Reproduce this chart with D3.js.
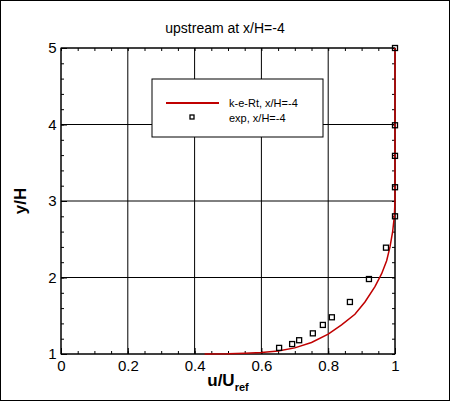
<!DOCTYPE html><html><head><script src="https://cdn.jsdelivr.net/npm/d3@7"></script>
<style>body{margin:0;background:#fff}text{font-family:"Liberation Sans",Arial,sans-serif}</style></head><body>
<svg id="c" width="450" height="401"></svg>
<script>
const xTicks=[0,0.2,0.4,0.6,0.8,1];
const yTicks=[1,2,3,4,5];
const simX=[0.43,0.5,0.55,0.6,0.65,0.7,0.75,0.8,0.84,0.88,0.91,0.94,0.96,0.975,0.985,0.993,0.998,1,1];
const simY=[1.0,1.003,1.01,1.02,1.04,1.08,1.15,1.26,1.38,1.52,1.68,1.88,2.05,2.22,2.4,2.6,2.8,3.0,5];
const expX=[0.653,0.692,0.713,0.754,0.784,0.811,0.865,0.922,0.973,1,1,1,1,1];
const expY=[1.08,1.13,1.18,1.27,1.38,1.48,1.68,1.98,2.39,2.8,3.18,3.59,3.99,5.0];
const svg=d3.select("#c");
svg.append("rect").attr("x",0.5).attr("y",0.5).attr("width",449).attr("height",400).attr("fill","none").attr("stroke","#000");
const x=d3.scaleLinear().domain([0,1]).range([61,395]);
const y=d3.scaleLinear().domain([1,5]).range([354,48]);
const g=svg.append("g");
xTicks.forEach(t=>g.append("line").attr("x1",x(t)).attr("x2",x(t)).attr("y1",48).attr("y2",354).attr("stroke","#000"));
yTicks.forEach(t=>g.append("line").attr("x1",61).attr("x2",395).attr("y1",y(t)).attr("y2",y(t)).attr("stroke","#000"));
g.append("rect").attr("x",61).attr("y",48).attr("width",334).attr("height",306).attr("fill","none").attr("stroke","#000");
const ax=svg.append("g").attr("transform","translate(0,354)").call(d3.axisBottom(x).tickValues(xTicks).tickSize(-6).tickFormat(d3.format("")));
ax.selectAll(".tick text").attr("font-size",15).attr("dy","0.9em");
ax.select(".domain").remove();
svg.append("g").attr("transform","translate(0,354)").call(d3.axisBottom(x).ticks(25).tickSize(-3).tickFormat("")).select(".domain").remove();
const ay=svg.append("g").attr("transform","translate(61,0)").call(d3.axisLeft(y).tickValues(yTicks).tickSize(-6).tickFormat(d3.format("")));
ay.selectAll(".tick text").attr("font-size",15).attr("dx","-0.1em");
ay.select(".domain").remove();
svg.append("g").attr("transform","translate(61,0)").call(d3.axisLeft(y).ticks(20).tickSize(-3).tickFormat("")).select(".domain").remove();
svg.append("g").attr("transform","translate(395,0)").call(d3.axisRight(y).ticks(20).tickSize(-3).tickFormat("")).select(".domain").remove();
svg.append("g").attr("transform","translate(0,48)").call(d3.axisTop(x).ticks(25).tickSize(-3).tickFormat("")).select(".domain").remove();
const line=d3.line().x((d,i)=>x(simX[i])).y((d,i)=>y(simY[i]));
svg.append("path").datum(simX).attr("d",line).attr("fill","none").attr("stroke","#c00000").attr("stroke-width",1.5);
svg.selectAll(".p").data(expX).enter().append("rect").attr("x",(d)=>x(d)-2.5).attr("y",(d,i)=>y(expY[i])-2.5).attr("width",5).attr("height",5).attr("fill","none").attr("stroke","#000").attr("stroke-width",1.3);
svg.append("text").attr("x",225).attr("y",33).attr("text-anchor","middle").attr("font-size",14).text("upstream at x/H=-4");
const lg=svg.append("g");
lg.append("rect").attr("x",152).attr("y",79).attr("width",171).attr("height",58).attr("fill","#fff").attr("stroke","#000");
lg.append("line").attr("x1",166).attr("x2",219).attr("y1",103).attr("y2",103).attr("stroke","#c00000").attr("stroke-width",2);
lg.append("rect").attr("x",190).attr("y",115).attr("width",4).attr("height",4).attr("fill","none").attr("stroke","#000").attr("stroke-width",1.3);
lg.append("text").attr("x",229).attr("y",107).attr("font-size",11).text("k-e-Rt, x/H=-4");
lg.append("text").attr("x",229).attr("y",122).attr("font-size",11).text("exp, x/H=-4");
svg.append("text").attr("transform","translate(26,201) rotate(-90)").attr("text-anchor","middle").attr("font-size",17).attr("font-weight","bold").text("y/H");
const xl=svg.append("text").attr("x",228).attr("y",386).attr("text-anchor","middle").attr("font-size",17).attr("font-weight","bold");
xl.append("tspan").text("u/U");
xl.append("tspan").attr("font-size",11).attr("dy",5).text("ref");
</script></body></html>
